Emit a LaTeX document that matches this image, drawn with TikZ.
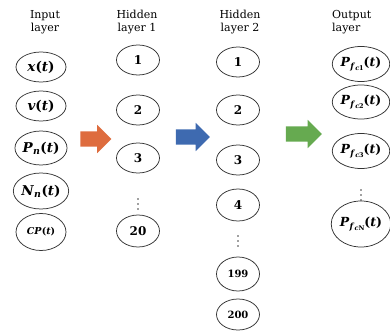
\documentclass[tikz,border=0pt]{standalone}
\usepackage{fontspec}
\setmainfont{DejaVu Serif}
\usetikzlibrary{shapes.geometric,shapes.arrows}
\newcommand\mv[1]{\textbf{\textit{#1}}}
\newcommand\bp[1]{\textbf{(}\mv{#1}\textbf{)}}
\newcommand\pfc[1]{\mv{P}\raisebox{-2.2pt}{\fontsize{8.5}{8.5}\selectfont\mv{f}\raisebox{-1.6pt}{\fontsize{6.5}{6.5}\selectfont\mv{c}\textbf{#1}}}\bp{t}}
\definecolor{arrOrange}{HTML}{DE6C3E}
\definecolor{arrBlue}{HTML}{3E6AB0}
\definecolor{arrGreen}{HTML}{66AA50}
\begin{document}
\begin{tikzpicture}[x=1pt,y=-1pt,
  neuron/.style={ellipse, draw=black!80, line width=0.75pt, inner sep=0pt},
  inpn/.style={neuron, minimum width=50pt, font=\fontsize{13.5}{13.5}\selectfont},
  hidn/.style={neuron, minimum width=43pt, minimum height=30pt, font=\bfseries\fontsize{12}{12}\selectfont},
  outn/.style={neuron, minimum width=56pt, font=\fontsize{12.5}{12.5}\selectfont},
  title/.style={font=\fontsize{11}{13}\selectfont, inner sep=0pt},
  dotn/.style={circle, fill=black!75, inner sep=0pt, minimum size=1.8pt},
  bigarrow/.style={single arrow, draw=none, inner xsep=0pt, inner ysep=7.5pt,
    minimum height=32pt, single arrow head extend=6.5pt, single arrow tip angle=90}]
\useasboundingbox (0,0) rectangle (390,331);
% titles
\node[title, align=center] (t1) at (45,22) {Input\\layer};
\node[title, align=center] (t2) at (137,22) {Hidden\\layer 1};
\node[title, align=center] (t3) at (240,22) {Hidden\\layer 2};
\node[title, align=left, anchor=west] (t4) at (332,22) {Output\\layer};
% input layer
\node[inpn, minimum height=30pt] (i1) at (41,67) {\mv{x}\bp{t}};
\node[inpn, minimum height=30pt] (i2) at (41,106) {\mv{v}\bp{t}};
\node[inpn, minimum height=34pt, minimum width=52pt] (i3) at (41,148) {\mv{P}\textsubscript{\mv{n}}\bp{t}};
\node[inpn, minimum height=36pt] (i4) at (41,191) {\mv{N}\textsubscript{\mv{n}}\bp{t}};
\node[inpn, minimum height=37pt, font=\fontsize{9.5}{9.5}\selectfont] (i5) at (41,232) {\mv{CP}\bp{t}};
% hidden layer 1
\node[hidn] (a1) at (138,60) {1};
\node[hidn] (a2) at (138,110) {2};
\node[hidn] (a3) at (138,158) {3};
\node[dotn] (ad1) at (138,199) {};
\node[dotn] (ad2) at (138,204) {};
\node[dotn] (ad3) at (138,209) {};
\node[hidn, minimum height=32pt] (a20) at (138,231) {20};
% hidden layer 2
\node[hidn] (b1) at (238,62) {1};
\node[hidn] (b2) at (238,110) {2};
\node[hidn] (b3) at (238,160) {3};
\node[hidn, minimum height=32pt] (b4) at (238,205) {4};
\node[dotn] (bd1) at (238,236) {};
\node[dotn] (bd2) at (238,241) {};
\node[dotn] (bd3) at (238,246) {};
\node[hidn, minimum height=34pt, font=\bfseries\fontsize{10}{10}\selectfont] (b199) at (238,274) {199};
\node[hidn, minimum height=31pt, font=\bfseries\fontsize{10}{10}\selectfont] (b200) at (238,314.5) {200};
% output layer
\node[outn, minimum height=35pt] (o1) at (361,64) {\pfc{1}};
\node[outn, minimum height=34pt] (o2) at (361,102) {\pfc{2}};
\node[outn, minimum height=35pt] (o3) at (361,151) {\pfc{3}};
\node[dotn] (od1) at (361,190) {};
\node[dotn] (od2) at (361,195) {};
\node[dotn] (od3) at (361,200) {};
\node[outn, minimum height=46pt] (oN) at (361,224) {\pfc{N}};
% big arrows
\node[bigarrow, fill=arrOrange, minimum height=31pt] (arr1) at (92,139) {};
\node[bigarrow, fill=arrBlue, minimum height=34pt] (arr2) at (189,137) {};
\node[bigarrow, fill=arrGreen, minimum height=36pt] (arr3) at (300,134) {};
\end{tikzpicture}
\end{document}
